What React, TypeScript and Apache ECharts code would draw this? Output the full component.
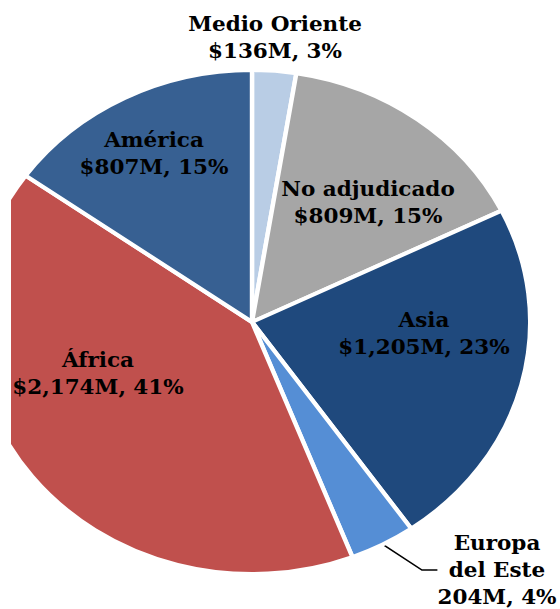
import React, { useEffect, useRef } from "react";
import * as echarts from "echarts";

// ---- data ----
const categories = ["Medio Oriente", "No adjudicado", "Asia", "Europa del Este", "África", "América"];
const labelNames = ["Medio Oriente", "No adjudicado", "Asia", "Europa\ndel Este", "África", "América"];
const valuesM = [136, 809, 1205, 204, 2174, 807];
const valuePrefix = ["$", "$", "$", "", "$", "$"];

// ---- styles / layout ----
const colors = ["#B9CDE5", "#A6A6A6", "#1F497D", "#558ED5", "#C0504D", "#376092"];
const SX = 1.104; // horizontal stretch of the original picture
const CHART_W = Math.round(560 / SX);
const CHART_H = 609;
const CENTER_PAGE = [252, 322];
const RADIUS = 252;
// label block centres, in page pixels
const labelPos: number[][] = [
  [275, 38],
  [368, 203],
  [424, 334],
  [497, 570],
  [98, 374],
  [154, 154],
];

export default function App() {
  const ref = useRef<HTMLDivElement>(null);

  useEffect(() => {
    if (!ref.current) return;
    const chart = echarts.init(ref.current, undefined, { renderer: "svg" });
    const data = categories.map((name, i) => {
      const outside = i === 0 || i === 3;
      return {
        name,
        value: valuesM[i],
        itemStyle: { color: colors[i] },
        label: { position: outside ? "outside" : "inside" },
        labelLine: {
          show: i === 3,
          length: 14,
          length2: 14,
          lineStyle: { color: "#000", width: 1.5 },
        },
      };
    });
    chart.setOption({
      animation: false,
      backgroundColor: "#fff",
      series: [
        {
          type: "pie",
          startAngle: 90,
          clockwise: true,
          center: [CENTER_PAGE[0] / SX, CENTER_PAGE[1]],
          radius: [0, RADIUS],
          avoidLabelOverlap: false,
          itemStyle: { borderColor: "#fff", borderWidth: 4 },
          label: {
            show: true,
            color: "#000",
            fontFamily: "DejaVu Serif",
            fontWeight: "bold",
            fontSize: 19.5,
            lineHeight: 27,
            align: "center",
            formatter: (p: any) => {
              const i = p.dataIndex;
              const v = valuesM[i].toLocaleString("en-US");
              return `${labelNames[i]}\n${valuePrefix[i]}${v}M, ${Math.round(p.percent)}%`;
            },
          },
          labelLayout: (p: any) => {
            const pos = labelPos[p.dataIndex];
            return {
              x: pos[0] / SX,
              y: pos[1],
              align: "center",
              verticalAlign: "middle",
              hideOverlap: false,
            };
          },
          emphasis: { disabled: true },
          data,
        },
      ],
    });
    return () => chart.dispose();
  }, []);

  return (
    <div
      style={{
        position: "absolute",
        left: 11,
        top: 0,
        width: 549,
        height: 609,
        overflow: "hidden",
        background: "#fff",
      }}
    >
      <div
        ref={ref}
        style={{
          position: "absolute",
          left: -11,
          top: 0,
          width: CHART_W,
          height: CHART_H,
          transform: `scaleX(${SX})`,
          transformOrigin: "0 0",
        }}
      />
    </div>
  );
}
